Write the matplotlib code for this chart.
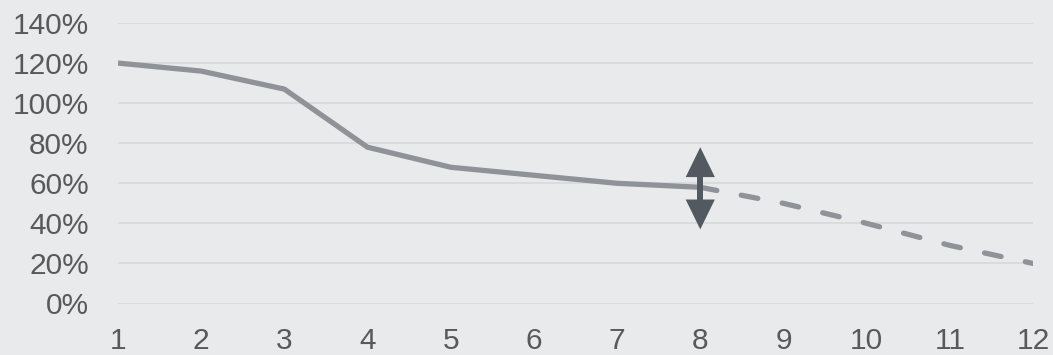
import numpy as np
import matplotlib.pyplot as plt
from matplotlib.ticker import FuncFormatter

# values
x_solid = [1, 2, 3, 4, 5, 6, 7, 8]
y_solid = [120, 116, 107, 78, 68, 64, 60, 58]
x_dash = [8, 9, 10, 11, 12]
y_dash = [58, 50, 40, 29, 20]
arrow_x = 8
arrow_top = 78
arrow_bottom = 37
x_ticks = list(range(1, 13))
y_ticks = [0, 20, 40, 60, 80, 100, 120, 140]

bg = '#e9eaec'
line_col = '#8f9397'
arrow_col = '#535961'
text_col = '#595959'

plt.rcParams['font.family'] = ['Liberation Sans', 'DejaVu Sans']

fig = plt.figure(figsize=(10.53, 3.55), dpi=100, facecolor=bg)
ax = fig.add_axes([118 / 1053, (355 - 303.5) / 355, (1033 - 118) / 1053, (303.5 - 23) / 355])
ax.set_facecolor(bg)

ax.plot(x_solid, y_solid, color=line_col, lw=3.8, solid_capstyle='butt', solid_joinstyle='round', zorder=3)
ax.plot(x_dash, y_dash, color=line_col, lw=3.8, dashes=(3.2, 4.7), dash_capstyle='round', zorder=3)

# double arrow: filled heads + separate shaft
ax.annotate('', xy=(arrow_x, arrow_top), xytext=(arrow_x, arrow_bottom),
            arrowprops=dict(arrowstyle='<|-|>,head_length=21.5,head_width=10.5',
                            mutation_scale=1, facecolor=arrow_col, edgecolor='none',
                            lw=0, shrinkA=0, shrinkB=0),
            zorder=4)
ax.plot([arrow_x, arrow_x], [arrow_bottom + 8, arrow_top - 8], color=arrow_col,
        lw=4.3, solid_capstyle='butt', zorder=4)

ax.set_xlim(1, 12)
ax.set_ylim(0, 140)
ax.set_xticks(x_ticks)
ax.set_yticks(y_ticks)
ax.yaxis.set_major_formatter(FuncFormatter(lambda v, p: f'{int(v)}%'))
ax.grid(axis='y', color='#d9dadc', lw=1.3)
ax.set_axisbelow(True)
for s in ax.spines.values():
    s.set_visible(False)
ax.tick_params(axis='both', length=0, labelsize=21.5, colors=text_col)
ax.tick_params(axis='y', pad=21)
ax.tick_params(axis='x', pad=17)

fig.savefig('out.png', dpi=100, facecolor=bg)
